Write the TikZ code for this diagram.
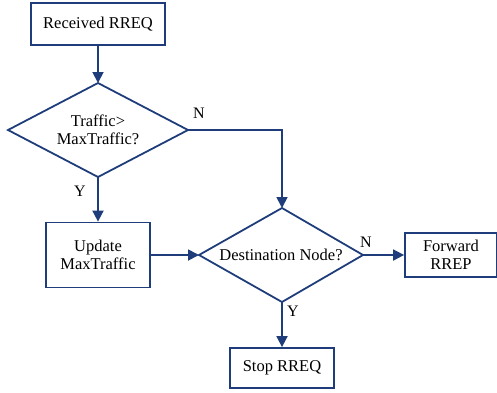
\documentclass[tikz,border=0pt]{standalone}
\usepackage{fontspec}
\setmainfont{Liberation Serif}
\usetikzlibrary{shapes.geometric,arrows.meta}
\definecolor{navy}{HTML}{1F3D7A}
\begin{document}
\begin{tikzpicture}[x=1pt,y=-1pt,
  every node/.style={font=\fontsize{16.5}{18.5}\selectfont, text=black},
  box/.style={draw=navy, line width=1.8pt, inner sep=0pt, align=center},
  edge/.style={draw=navy, line width=1.8pt, line join=miter},
  conn/.style={draw=navy, line width=1.8pt, -{Triangle[length=11pt,width=11pt]}},
  lab/.style={font=\fontsize{16}{18}\selectfont}]
\useasboundingbox (0,0) rectangle (497,392);
\node[box, minimum width=134pt, minimum height=42pt] (recv) at (98,24) {Received RREQ};
\path[edge] (98,83) coordinate (d1t) -- (188,130) coordinate (d1r) -- (98,177) coordinate (d1b) -- (8,130) coordinate (d1l) -- cycle;
\node[align=center] (d1txt) at (98,130) {Traffic>\\MaxTraffic?};
\node[box, minimum width=104pt, minimum height=65pt] (upd) at (98,255) {Update\\MaxTraffic};
\path[edge] (282,208) coordinate (d2t) -- (363,255) coordinate (d2r) -- (282,302) coordinate (d2b) -- (199,255) coordinate (d2l) -- cycle;
\node (d2txt) at (281,255) {Destination Node?};
\node[box, minimum width=92pt, minimum height=44pt] (fwd) at (451,255) {Forward\\RREP};
\node[box, minimum width=104pt, minimum height=40pt] (stop) at (282,368) {Stop RREQ};
\coordinate (corner) at (282,130);
\draw[conn] (recv.south) -- (d1t);
\draw[conn] (d1b) -- (upd.north);
\draw[conn] (d1r) -- (corner) -- (d2t);
\draw[conn] (upd.east) -- (d2l);
\draw[conn] (d2r) -- (fwd.west);
\draw[conn] (d2b) -- (stop.north);
\node[lab] (n1) at (199,113) {N};
\node[lab] (y1) at (80,191) {Y};
\node[lab] (n2) at (366,242) {N};
\node[lab] (y2) at (293,311) {Y};
\end{tikzpicture}
\end{document}
